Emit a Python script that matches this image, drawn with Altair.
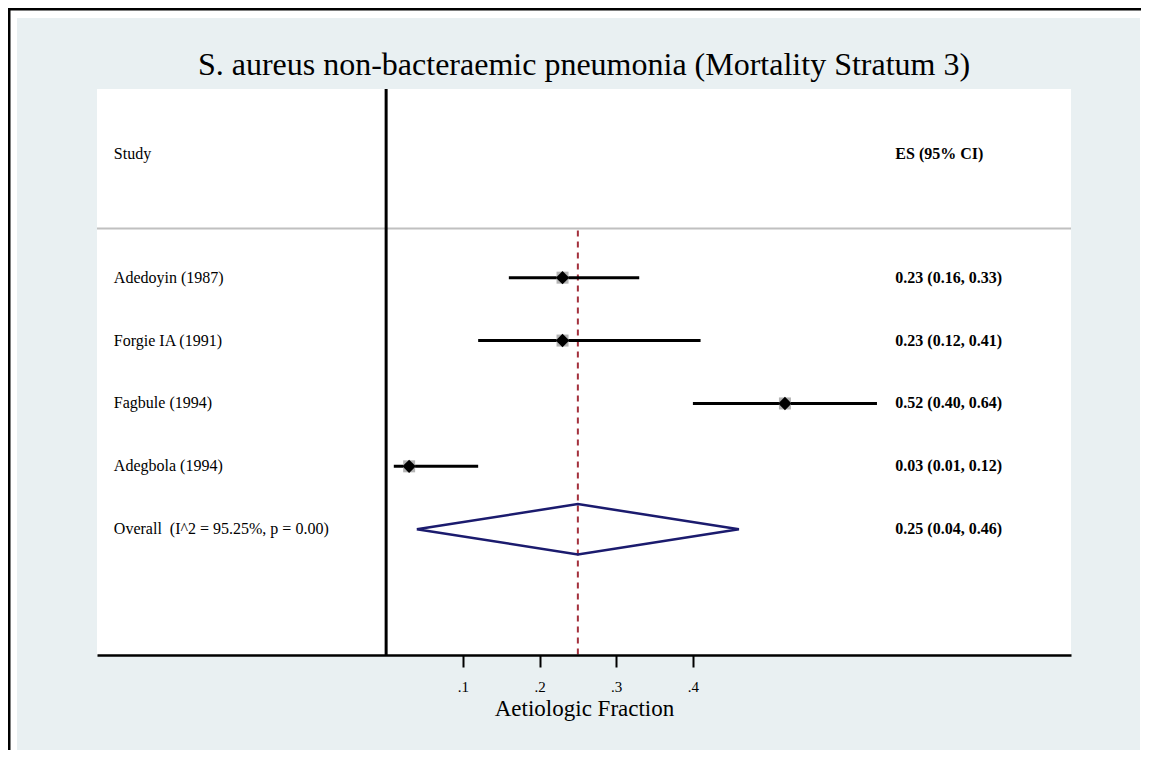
import altair as alt
import pandas as pd

# ---- data ----
TITLE = "S. aureus non-bacteraemic pneumonia (Mortality Stratum 3)"
studies = ["Adedoyin (1987)", "Forgie IA (1991)", "Fagbule (1994)", "Adegbola (1994)"]
es = [0.23, 0.23, 0.52, 0.03]
lo = [0.16, 0.12, 0.40, 0.01]
hi = [0.33, 0.41, 0.64, 0.12]
overall_label = "Overall\u00a0 (I^2 = 95.25%, p = 0.00)"
overall_es = 0.25
overall_lo = 0.04
overall_hi = 0.46
tick_values = [0.1, 0.2, 0.3, 0.4]
x_title = "Aetiologic Fraction"

# ---- layout constants ----
W, H = 974, 566
X_DOMAIN = [-0.377, 0.893]
Y_DOMAIN = [-3, 6]
HEADER_ROW = -1.97
SEP_ROW = -0.78
LABEL_X = -0.355
ES_X = 0.664
FONT = "Liberation Serif"
BG = "#e9f0f2"

rows = list(range(len(studies)))
overall_row = len(studies)

df = pd.DataFrame({"study": studies, "es": es, "lo": lo, "hi": hi, "row": rows})
df["es_label"] = [f"{e:.2f} ({l:.2f}, {h:.2f})" for e, l, h in zip(es, lo, hi)]

labels_df = pd.DataFrame({
    "label": ["Study"] + studies + [overall_label],
    "row": [HEADER_ROW] + rows + [overall_row],
})
es_labels_df = pd.DataFrame({
    "label": ["ES (95% CI)"] + list(df["es_label"]) + [f"{overall_es:.2f} ({overall_lo:.2f}, {overall_hi:.2f})"],
    "row": [HEADER_ROW] + rows + [overall_row],
})
diamond_df = pd.DataFrame({
    "x": [overall_lo, overall_es, overall_hi, overall_es, overall_lo],
    "row": [overall_row, overall_row - 0.4, overall_row, overall_row + 0.4, overall_row],
    "o": [0, 1, 2, 3, 4],
})
one = pd.DataFrame({"d": [0]})

xscale = alt.Scale(domain=X_DOMAIN, nice=False, zero=False)
yscale = alt.Scale(domain=Y_DOMAIN, nice=False, zero=False, reverse=True)
xaxis = alt.Axis(
    values=tick_values,
    labelExpr="replace(format(datum.value, '.1f'), /^0/, '')",
    title=x_title,
    grid=False,
    domainColor="black",
    domainWidth=2.5,
    tickColor="black",
    tickWidth=2,
    tickSize=12,
    labelPadding=12,
    labelFont=FONT,
    labelFontSize=15,
    labelColor="black",
    titleFont=FONT,
    titleFontSize=23,
    titleFontWeight="normal",
    titleColor="black",
    titlePadding=3,
    zindex=1,
)


def X(field):
    return alt.X(field, type="quantitative", scale=xscale, axis=xaxis)


def Y(field):
    return alt.Y(field, type="quantitative", scale=yscale, axis=None)


# decorations: outer light panel, frame, white plot region
light = alt.Chart(one).mark_rect(color=BG).encode(
    x=alt.value(-80), x2=alt.value(1043), y=alt.value(-71), y2=alt.value(665)
)
frame_left = alt.Chart(one).mark_rule(color="black", strokeWidth=3).encode(
    x=alt.value(-88), y=alt.value(-81), y2=alt.value(661)
)
frame_top = alt.Chart(one).mark_rule(color="black", strokeWidth=3).encode(
    y=alt.value(-80), x=alt.value(-89), x2=alt.value(1044)
)
plot_bg = alt.Chart(one).mark_rect(color="white").encode(
    x=alt.value(0), x2=alt.value(W), y=alt.value(0), y2=alt.value(H)
)

sep = alt.Chart(one).mark_rule(color="#c0c0c0", strokeWidth=2).encode(
    x=alt.datum(X_DOMAIN[0], scale=xscale), x2=alt.datum(X_DOMAIN[1]),
    y=alt.datum(SEP_ROW, scale=yscale, axis=None),
)
zero_line = alt.Chart(one).mark_rule(color="black", strokeWidth=3).encode(
    x=alt.datum(0, scale=xscale, axis=xaxis),
    y=alt.datum(Y_DOMAIN[0], scale=yscale, axis=None), y2=alt.datum(Y_DOMAIN[1]),
)
dashed = alt.Chart(one).mark_rule(color="#a3303c", strokeWidth=2, strokeDash=[6, 5]).encode(
    x=alt.datum(overall_es, scale=xscale),
    y=alt.datum(SEP_ROW + 0.03, scale=yscale, axis=None), y2=alt.datum(Y_DOMAIN[1]),
)

ci = alt.Chart(df).mark_rule(color="black", strokeWidth=3).encode(
    x=X("lo"), x2="hi", y=Y("row")
)
boxes = alt.Chart(df).mark_square(color="#b4b4b4", opacity=1, size=144).encode(
    x=X("es"), y=Y("row")
)
points = alt.Chart(df).mark_point(shape="diamond", filled=True, color="black", opacity=1, size=180).encode(
    x=X("es"), y=Y("row")
)
diamond = alt.Chart(diamond_df).mark_line(color="#1b1b6e", strokeWidth=2.5).encode(
    x=X("x"), y=Y("row"), order="o:Q"
)

study_text = alt.Chart(labels_df).mark_text(
    align="left", baseline="middle", font=FONT, fontSize=16, color="black"
).encode(x=alt.datum(LABEL_X, scale=xscale), y=Y("row"), text="label:N")

es_text = alt.Chart(es_labels_df).mark_text(
    align="left", baseline="middle", font=FONT, fontSize=16, fontWeight="bold", color="black"
).encode(x=alt.datum(ES_X, scale=xscale), y=Y("row"), text="label:N")

title = alt.Chart(one).mark_text(
    align="center", baseline="alphabetic", font=FONT, fontSize=32, color="black"
).encode(x=alt.value(W / 2), y=alt.value(-14), text=alt.value(TITLE))

chart = alt.layer(
    light, frame_left, frame_top, plot_bg, sep, zero_line, dashed,
    ci, boxes, points, diamond, study_text, es_text, title,
).properties(
    width=W, height=H,
    autosize=alt.AutoSizeParams(type="none"),
    padding={"left": 89, "top": 81, "right": 70, "bottom": 95},
    background="white",
).configure_view(strokeWidth=0)

chart.save("out.html", embed_options={"renderer": "svg", "actions": False})
